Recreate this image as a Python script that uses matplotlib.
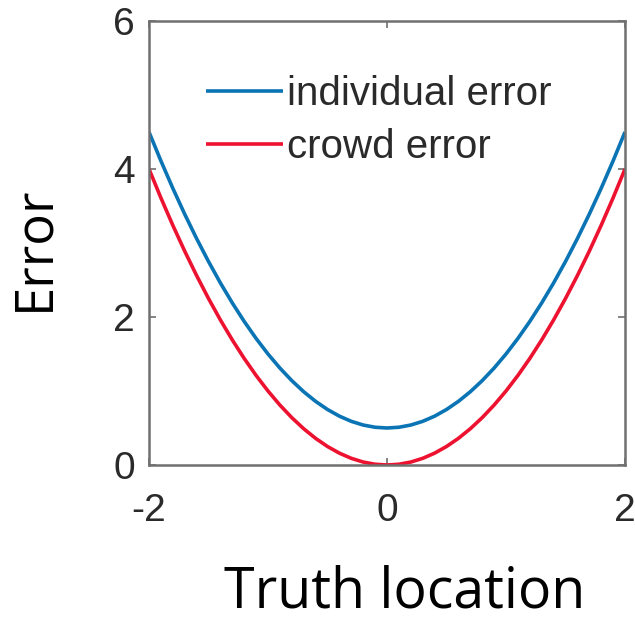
import matplotlib
matplotlib.use("Agg")
import matplotlib.pyplot as plt

# Truth location samples and the error values of each curve
truth = [-2.0, -1.9, -1.8, -1.7, -1.6, -1.5, -1.4, -1.3, -1.2, -1.1, -1.0,
         -0.9, -0.8, -0.7, -0.6, -0.5, -0.4, -0.3, -0.2, -0.1, 0.0,
         0.1, 0.2, 0.3, 0.4, 0.5, 0.6, 0.7, 0.8, 0.9, 1.0,
         1.1, 1.2, 1.3, 1.4, 1.5, 1.6, 1.7, 1.8, 1.9, 2.0]
individual_error = [4.5, 4.11, 3.74, 3.39, 3.06, 2.75, 2.46, 2.19, 1.94, 1.71, 1.5,
                    1.31, 1.14, 0.99, 0.86, 0.75, 0.66, 0.59, 0.54, 0.51, 0.5,
                    0.51, 0.54, 0.59, 0.66, 0.75, 0.86, 0.99, 1.14, 1.31, 1.5,
                    1.71, 1.94, 2.19, 2.46, 2.75, 3.06, 3.39, 3.74, 4.11, 4.5]
crowd_error = [4.0, 3.61, 3.24, 2.89, 2.56, 2.25, 1.96, 1.69, 1.44, 1.21, 1.0,
               0.81, 0.64, 0.49, 0.36, 0.25, 0.16, 0.09, 0.04, 0.01, 0.0,
               0.01, 0.04, 0.09, 0.16, 0.25, 0.36, 0.49, 0.64, 0.81, 1.0,
               1.21, 1.44, 1.69, 1.96, 2.25, 2.56, 2.89, 3.24, 3.61, 4.0]

x_ticks = [-2, 0, 2]
y_ticks = [0, 2, 4, 6]

W, H = 635, 621
fig = plt.figure(figsize=(W / 100, H / 100), dpi=100)
ax_l, ax_r, ax_t, ax_b = 149, 625, 21, 465
ax = fig.add_axes([ax_l / W, 1 - ax_b / H, (ax_r - ax_l) / W, (ax_b - ax_t) / H])

ax.plot(truth, individual_error, color="#0A74B4", lw=2.6, label="individual error",
        solid_capstyle="butt")
ax.plot(truth, crowd_error, color="#EC1230", lw=2.6, label="crowd error",
        solid_capstyle="butt")

ax.set_xlim(-2, 2)
ax.set_ylim(0, 6)
ax.set_xticks(x_ticks)
ax.set_yticks(y_ticks)
ax.set_xticklabels([str(t) for t in x_ticks])
ax.set_yticklabels([str(t) for t in y_ticks])

for side in ax.spines.values():
    side.set_color("#707070")
    side.set_linewidth(1.8)

ax.tick_params(axis="both", direction="in", length=5, width=1.2, color="#707070",
               top=True, right=True, labelsize=28, labelcolor="#2a2a2a")
ax.tick_params(axis="y", pad=10)
ax.tick_params(axis="x", pad=20)
for lab in ax.get_xticklabels() + ax.get_yticklabels():
    lab.set_family("Liberation Sans")

ax.set_xlabel("Truth location", fontsize=40, family="Open Sans")
ax.xaxis.label.set_va("baseline")
ax.xaxis.set_label_coords((405 - ax_l) / (ax_r - ax_l), (ax_b - 608) / (ax_b - ax_t))

ax.set_ylabel("Error", fontsize=38, family="Open Sans")
ax.yaxis.label.set_va("center")
ax.yaxis.set_label_coords((35 - ax_l) / (ax_r - ax_l), (ax_b - 248) / (ax_b - ax_t))

leg = ax.legend(loc="upper left", bbox_to_anchor=((206 - ax_l) / (ax_r - ax_l), 0.879),
                frameon=False, borderaxespad=0, borderpad=0, handlelength=1.9,
                handletextpad=0.12, labelspacing=0.39,
                prop={"family": "Liberation Sans", "size": 29})
for t in leg.get_texts():
    t.set_color("#2a2a2a")

fig.savefig("out.png", dpi=100)
